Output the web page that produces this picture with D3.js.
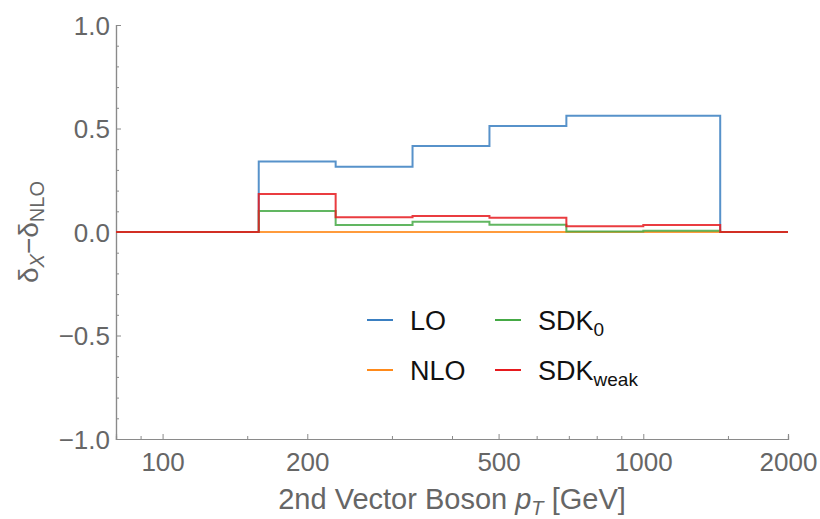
<!DOCTYPE html>
<html>
<head>
<meta charset="utf-8">
<script src="https://cdn.jsdelivr.net/npm/d3@7"></script>
<style>
  body { margin: 0; background: #fff; }
  text { font-family: "Liberation Sans", Arial, sans-serif; }
</style>
</head>
<body>
<svg id="chart" width="820" height="519"></svg>
<script>
// bin edges (GeV) and histogram values, one per bin
var binEdges = [80, 158.5, 229.1, 331.1, 478.6, 691.8, 1000, 1445.4, 2000];
var loVals = [0, 0.34, 0.315, 0.415, 0.512, 0.562, 0.561, 0];
var nloVals = [0, 0, 0, 0, 0, 0, 0, 0];
var sdk0Vals = [0, 0.101, 0.034, 0.05, 0.035, 0.003, 0.006, 0];
var sdkWeakVals = [0, 0.184, 0.071, 0.077, 0.069, 0.028, 0.034, 0];

var xMajor = [100, 200, 500, 1000, 2000];
var xMinor = [90, 150, 300, 400, 600, 700, 800, 900, 1500];
var yMajor = [-1, -0.5, 0, 0.5, 1];

var svg = d3.select("#chart");

var x = d3.scaleLog().domain([80, 2000]).range([116, 788]);
var y = d3.scaleLinear().domain([-1, 1]).range([439, 25]);

var axisColor = "#8a8a8a";
var labelColor = "#666";

var series = [
    { name: "LO", vals: loVals, color: "#3a7fc1" },
    { name: "NLO", vals: nloVals, color: "#ff8a1a" },
    { name: "SDK0", vals: sdk0Vals, color: "#45a945" },
    { name: "SDKweak", vals: sdkWeakVals, color: "#e61a1e" }
];

// axes
var xAxis = d3.axisBottom(x).tickValues(xMajor).tickSize(-5).tickFormat(d3.format("d"));
var xAxisMinor = d3.axisBottom(x).tickValues(xMinor).tickSize(-3).tickFormat("");
var yAxis = d3.axisLeft(y).tickValues(yMajor).tickSize(-5)
    .tickFormat(function(d) { return d3.format(".1f")(d).replace("-", "\u2212"); });
var yMinorVals = d3.range(-10, 11).map(function(d) { return d / 10; })
    .filter(function(d) { return Math.abs(d * 2 - Math.round(d * 2)) > 1e-6; });
var yAxisMinor = d3.axisLeft(y).tickValues(yMinorVals).tickSize(-3).tickFormat("");

function styleAxis(g) {
    g.select(".domain").attr("stroke", axisColor).attr("stroke-width", 1.2);
    g.selectAll(".tick line").attr("stroke", axisColor).attr("stroke-width", 1);
    g.selectAll(".tick text").attr("fill", labelColor).style("font-size", "26px")
        .style("font-family", "'Liberation Sans', Arial, sans-serif");
}

svg.append("g").attr("transform", "translate(0,439)").call(xAxisMinor).call(styleAxis);
svg.append("g").attr("transform", "translate(0,439)").call(xAxis).call(styleAxis)
    .selectAll(".tick text").attr("dy", null).attr("y", 32);
svg.append("g").attr("transform", "translate(116,0)").call(yAxisMinor).call(styleAxis);
svg.append("g").attr("transform", "translate(116,0)").call(yAxis).call(styleAxis)
    .selectAll(".tick text").attr("x", -6).attr("dy", "0.36em");

// histogram step lines
var line = d3.line()
    .x(function(d) { return x(d[0]); })
    .y(function(d) { return y(d[1]); })
    .curve(d3.curveStepAfter);

series.forEach(function(s) {
    var pts = s.vals.map(function(v, i) { return [binEdges[i], v]; });
    pts.push([binEdges[binEdges.length - 1], s.vals[s.vals.length - 1]]);
    svg.append("path")
        .datum(pts)
        .attr("d", line)
        .attr("fill", "none")
        .attr("stroke", s.color)
        .attr("stroke-width", 2)
        .attr("stroke-opacity", 0.85);
});

// axis titles
var xt = svg.append("text")
    .attr("x", 452).attr("y", 509)
    .attr("text-anchor", "middle")
    .attr("fill", labelColor)
    .style("font-size", "29px");
xt.append("tspan").text("2nd Vector Boson ");
xt.append("tspan").text("p").style("font-style", "italic");
xt.append("tspan").text("T").style("font-style", "italic").style("font-size", "20px").attr("dy", 6);
xt.append("tspan").text(" [GeV]").attr("dy", -6);

var yt = svg.append("text")
    .attr("transform", "translate(38,232) rotate(-90)")
    .attr("text-anchor", "middle")
    .attr("fill", labelColor)
    .style("font-size", "28px");
yt.append("tspan").text("\u03b4");
yt.append("tspan").text("X").style("font-size", "20px").style("font-style", "italic").attr("dy", 6);
yt.append("tspan").text("\u2212\u03b4").attr("dy", -6);
yt.append("tspan").text("NLO").style("font-size", "20px").attr("dy", 6);

// legend
var legend = [
    { color: "#3a7fc1", main: "LO", sub: "", lx: 367, ly: 320 },
    { color: "#45a945", main: "SDK", sub: "0", lx: 495, ly: 320 },
    { color: "#ff8a1a", main: "NLO", sub: "", lx: 367, ly: 370 },
    { color: "#e61a1e", main: "SDK", sub: "weak", lx: 495, ly: 370 }
];

legend.forEach(function(l) {
    svg.append("line")
        .attr("x1", l.lx).attr("x2", l.lx + 26)
        .attr("y1", l.ly).attr("y2", l.ly)
        .attr("stroke", l.color).attr("stroke-width", 2);
    var t = svg.append("text")
        .attr("x", l.lx + 43).attr("y", l.ly + 10)
        .attr("fill", "#111")
        .style("font-size", "27px");
    t.append("tspan").text(l.main);
    if (l.sub) {
        t.append("tspan").text(l.sub).style("font-size", "19px").attr("dy", 6);
    }
});
</script>
</body>
</html>
